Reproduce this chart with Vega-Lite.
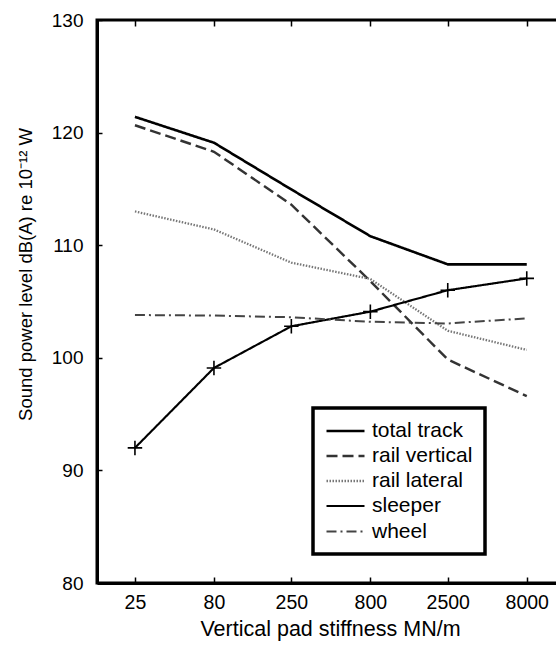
{
  "$schema": "https://vega.github.io/schema/vega-lite/v6.json",
  "width": 466,
  "height": 563,
  "autosize": {"type": "none"},
  "padding": {"left": 97, "top": 20, "right": 0, "bottom": 62},
  "config": {
    "font": "Liberation Sans",
    "view": {"stroke": "black", "strokeWidth": 3},
    "axis": {"grid": false, "labelFont": "Liberation Sans", "titleFont": "Liberation Sans", "labelColor": "black", "titleColor": "black", "tickColor": "black", "domainColor": "black", "titleFontWeight": "normal"},
    "legend": {"labelFont": "Liberation Sans"}
  },
  "data": {"values": [
    {"k": 25, "v": 121.4, "series": "total track"},
    {"k": 80, "v": 119.1, "series": "total track"},
    {"k": 250, "v": 114.95, "series": "total track"},
    {"k": 800, "v": 110.8, "series": "total track"},
    {"k": 2500, "v": 108.3, "series": "total track"},
    {"k": 8000, "v": 108.3, "series": "total track"},
    {"k": 25, "v": 120.65, "series": "rail vertical"},
    {"k": 80, "v": 118.3, "series": "rail vertical"},
    {"k": 250, "v": 113.6, "series": "rail vertical"},
    {"k": 800, "v": 106.8, "series": "rail vertical"},
    {"k": 2500, "v": 99.85, "series": "rail vertical"},
    {"k": 8000, "v": 96.6, "series": "rail vertical"},
    {"k": 25, "v": 113.0, "series": "rail lateral"},
    {"k": 80, "v": 111.4, "series": "rail lateral"},
    {"k": 250, "v": 108.45, "series": "rail lateral"},
    {"k": 800, "v": 107.0, "series": "rail lateral"},
    {"k": 2500, "v": 102.4, "series": "rail lateral"},
    {"k": 8000, "v": 100.7, "series": "rail lateral"},
    {"k": 25, "v": 92.0, "series": "sleeper"},
    {"k": 80, "v": 99.1, "series": "sleeper"},
    {"k": 250, "v": 102.8, "series": "sleeper"},
    {"k": 800, "v": 104.1, "series": "sleeper"},
    {"k": 2500, "v": 106.0, "series": "sleeper"},
    {"k": 8000, "v": 107.05, "series": "sleeper"},
    {"k": 25, "v": 103.8, "series": "wheel"},
    {"k": 80, "v": 103.75, "series": "wheel"},
    {"k": 250, "v": 103.6, "series": "wheel"},
    {"k": 800, "v": 103.2, "series": "wheel"},
    {"k": 2500, "v": 103.05, "series": "wheel"},
    {"k": 8000, "v": 103.5, "series": "wheel"}
  ]},
  "layer": [
    {
      "mark": {"type": "line", "clip": true},
      "encoding": {
        "x": {"field": "k", "type": "quantitative",
          "scale": {"type": "log", "domain": [14.3, 13640], "nice": false},
          "axis": {"values": [25, 80, 250, 800, 2500, 8000], "format": "d", "labelFontSize": 19.5, "tickSize": -6, "tickWidth": 1.5, "domainWidth": 3, "labelPadding": 16, "title": "Vertical pad stiffness MN/m", "titleFontSize": 21.5, "titlePadding": 7, "labelFlush": false}},
        "y": {"field": "v", "type": "quantitative",
          "scale": {"domain": [80, 130], "nice": false, "zero": false},
          "axis": {"values": [80, 90, 100, 110, 120, 130], "labelFontSize": 19, "tickSize": -5, "tickWidth": 1.5, "domainWidth": 3, "labelPadding": 19, "title": "Sound power level dB(A) re 10⁻¹² W", "titleFontSize": 18.5, "titleX": -72, "titleY": 254, "titleBaseline": "middle"}},
        "color": {"field": "series", "type": "nominal",
          "scale": {"domain": ["total track", "rail vertical", "rail lateral", "sleeper", "wheel"], "range": ["#000000", "#333333", "#777777", "#000000", "#444444"]},
          "legend": {"title": null, "orient": "none", "legendX": 216, "legendY": 388, "strokeColor": "black", "padding": 12, "labelFontSize": 21, "symbolType": "M-1,0H3", "symbolSize": 361, "labelOffset": 25, "rowPadding": 4,
            "encode": {"legend": {"update": {"strokeWidth": {"value": 3.5}}}}}},
        "strokeDash": {"field": "series", "type": "nominal",
          "scale": {"domain": ["total track", "rail vertical", "rail lateral", "sleeper", "wheel"], "range": [[1, 0], [11, 5], [1.5, 1.5], [1, 0], [10, 4, 2, 4]]},
          "legend": {"title": null, "orient": "none", "legendX": 216, "legendY": 388, "strokeColor": "black", "padding": 12, "labelFontSize": 21, "symbolType": "M-1,0H3", "symbolSize": 361, "labelOffset": 25, "rowPadding": 4,
            "encode": {"legend": {"update": {"strokeWidth": {"value": 3.5}}}}}},
        "strokeWidth": {"field": "series", "type": "nominal",
          "scale": {"domain": ["total track", "rail vertical", "rail lateral", "sleeper", "wheel"], "range": [2.6, 2, 1.6, 2.2, 2]},
          "legend": {"title": null, "orient": "none", "legendX": 216, "legendY": 388, "strokeColor": "black", "padding": 12, "labelFontSize": 21, "symbolType": "M-1,0H3", "symbolSize": 361, "labelOffset": 25, "rowPadding": 4,
            "encode": {"legend": {"update": {"strokeWidth": {"value": 3.5}}}}}}
      }
    },
    {
      "transform": [{"filter": "datum.series === 'sleeper'"}],
      "mark": {"type": "point", "shape": "M-1,0H1M0,-1V1", "filled": false, "stroke": "black", "strokeWidth": 1.6, "size": 210, "opacity": 1},
      "encoding": {
        "x": {"field": "k", "type": "quantitative",
          "axis": {"orient": "top", "values": [25, 80, 250, 800, 2500, 8000], "labels": false, "title": null, "tickSize": -6, "tickWidth": 1.5, "domain": false}},
        "y": {"field": "v", "type": "quantitative"}
      }
    }
  ],
  "resolve": {"axis": {"x": "independent"}}
}
